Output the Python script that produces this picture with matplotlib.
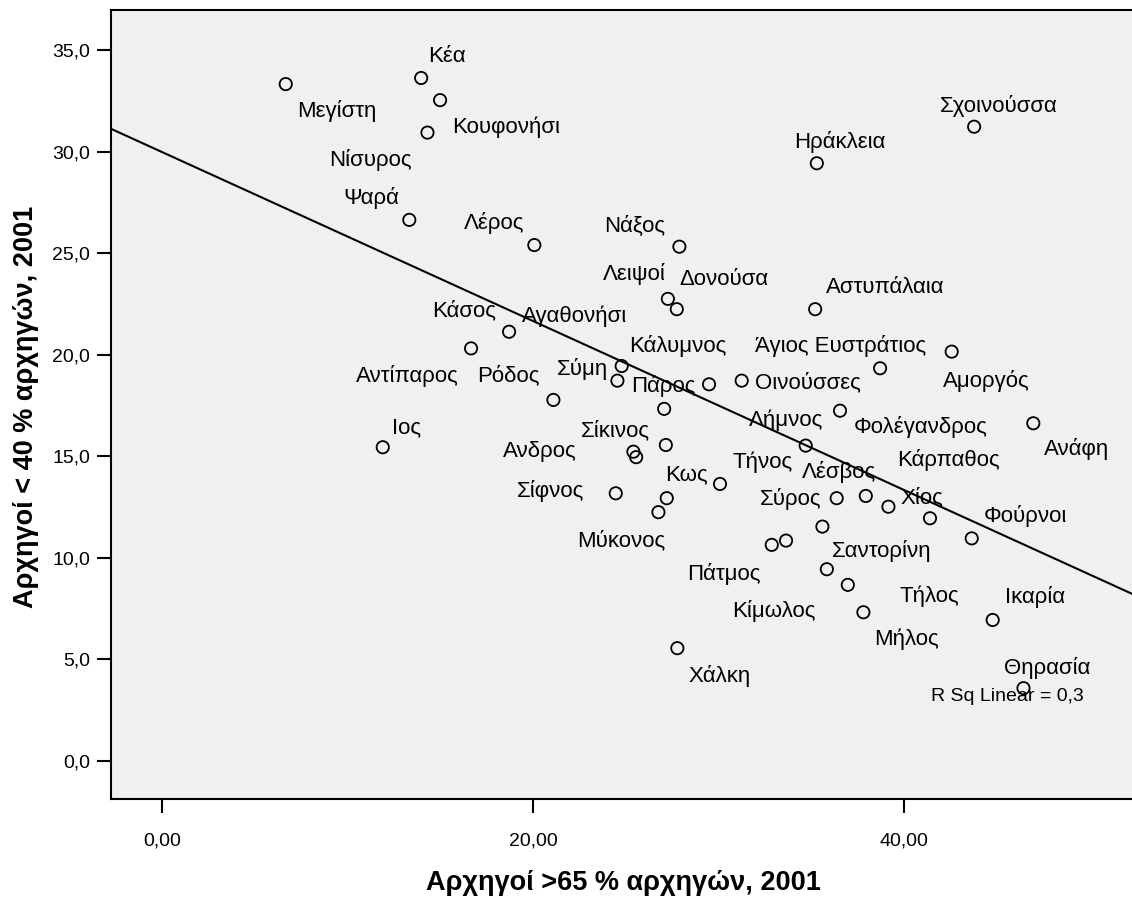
import matplotlib
matplotlib.use("Agg")
import matplotlib.pyplot as plt
import numpy as np
from matplotlib.ticker import FuncFormatter

plt.rcParams['font.family'] = ['Liberation Sans', 'DejaVu Sans']

# island names, x = leaders >65 (%), y = leaders <40 (%)
islands = ['Μεγίστη', 'Κέα', 'Κουφονήσι', 'Νίσυρος', 'Ψαρά', 'Λέρος', 'Νάξος',
           'Ηράκλεια', 'Σχοινούσσα', 'Λειψοί', 'Δονούσα', 'Αστυπάλαια', 'Αγαθονήσι',
           'Κάσος', 'Κάλυμνος', 'Σύμη', 'Οινούσσες', 'Πάρος', 'Άγιος Ευστράτιος',
           'Αμοργός', 'Ρόδος', 'Ιος', 'Σίκινος', 'Φολέγανδρος', 'Λήμνος', 'Αντίπαρος',
           'Ανδρος', '', 'Τήνος', 'Σίφνος', 'Κως', 'Μύκονος', 'Σύρος', 'Λέσβος',
           'Χίος', 'Σαντορίνη', 'Πάτμος', '', 'Κάρπαθος', 'Φούρνοι', 'Ανάφη',
           'Κίμωλος', 'Τήλος', 'Μήλος', 'Χάλκη', 'Ικαρία', 'Θηρασία']

over65 = [6.65, 13.95, 14.97, 14.29, 13.31, 20.05, 27.87,
          35.28, 43.76, 27.25, 27.73, 35.19, 18.69,
          16.64, 24.76, 24.53, 31.23, 29.47, 38.69,
          42.55, 21.08, 11.88, 27.05, 36.53, 34.68, 27.14,
          25.39, 25.54, 30.06, 24.44, 27.19, 26.74, 36.35, 37.92,
          39.14, 35.58, 32.85, 33.62, 41.38, 43.63, 46.95,
          35.82, 36.95, 37.79, 27.76, 44.76, 46.42]

under40 = [33.33, 33.63, 32.54, 30.94, 26.64, 25.40, 25.32,
           29.43, 31.23, 22.75, 22.24, 22.24, 21.13,
           20.31, 19.44, 18.72, 18.72, 18.54, 19.33,
           20.15, 17.77, 15.44, 17.33, 17.24, 15.52, 15.55,
           15.22, 14.95, 13.63, 13.17, 12.93, 12.24, 12.93, 13.04,
           12.51, 11.53, 10.63, 10.84, 11.94, 10.95, 16.62,
           9.43, 8.66, 7.31, 5.54, 6.93, 3.57]

# where the point labels sit (left / baseline of text)
label_xy = [(7.28, 31.69), (14.34, 34.40), (15.60, 30.94), (9.00, 29.30), (9.76, 27.42),
            (16.23, 26.18), (23.83, 26.06), (34.07, 30.17), (41.89, 31.97), (23.74, 23.68),
            (27.85, 23.43), (35.76, 23.02), (19.37, 21.63), (14.56, 21.91), (25.18, 20.15),
            (21.26, 19.00), (31.95, 18.34), (25.25, 18.18), (31.95, 20.15), (42.07, 18.39),
            (16.95, 18.67), (12.40, 16.13), (22.57, 16.00), (37.25, 16.13), (31.64, 16.49),
            (10.44, 18.67), (18.35, 14.95), None, (30.73, 14.40), (19.10, 13.00),
            (27.10, 13.83), (22.37, 10.58), (32.22, 12.60), (34.47, 13.91), (39.77, 12.68),
            (36.09, 10.03), (28.27, 8.90), None, (39.62, 14.53), (44.26, 11.77),
            (47.55, 15.06), (30.70, 7.09), (39.73, 7.80), (38.37, 5.70), (28.36, 3.86),
            (45.43, 7.75), (45.38, 4.27)]

x = np.array(over65)
y = np.array(under40)

fig = plt.figure(figsize=(11.32, 8.98), dpi=100)
ax = fig.add_axes([111/1132, 1-799/898, 1-111/1132, (799-10)/898])
ax.set_facecolor('#F0F0F0')

xlim = (-2.77, 52.27)
ax.set_xlim(xlim)
ax.set_ylim(-1.89, 36.98)

# linear fit line across the whole axis
b, a = np.polyfit(x, y, 1)
xx = np.array(xlim)
ax.plot(xx, a + b*xx, color='black', lw=1.5, zorder=2)

ax.scatter(x, y, s=78, facecolors='none', edgecolors='black', linewidths=1.3, zorder=3)

for name, pos in zip(islands, label_xy):
    if pos is None:
        continue
    ax.text(pos[0], pos[1], name, fontsize=16, ha='left', va='baseline', zorder=4)

ax.text(41.42, 2.94, 'R Sq Linear = 0,3', fontsize=14, ha='left', va='baseline', zorder=4)

ax.set_xticks([0, 20, 40])
ax.set_yticks(np.arange(0, 36, 5))
ax.xaxis.set_major_formatter(FuncFormatter(lambda v, p: f'{v:.2f}'.replace('.', ',')))
ax.yaxis.set_major_formatter(FuncFormatter(lambda v, p: f'{v:.1f}'.replace('.', ',')))
ax.tick_params(axis='both', length=10, width=1.5, labelsize=14, color='black')
ax.tick_params(axis='x', pad=14)
ax.tick_params(axis='y', pad=5)

for s in ['left', 'bottom', 'top']:
    ax.spines[s].set_linewidth(1.5)
ax.spines['right'].set_visible(False)

fig.text(623/1132, 1-890/898, 'Αρχηγοί >65 % αρχηγών, 2001', fontsize=19.5,
         fontweight='bold', ha='center', va='baseline')
fig.text(33/1132, 1-407/898, 'Αρχηγοί < 40 % αρχηγών, 2001', fontsize=19.5,
         fontweight='bold', ha='center', va='baseline', rotation=90,
         rotation_mode='anchor')

fig.savefig('out.png', dpi=100)
